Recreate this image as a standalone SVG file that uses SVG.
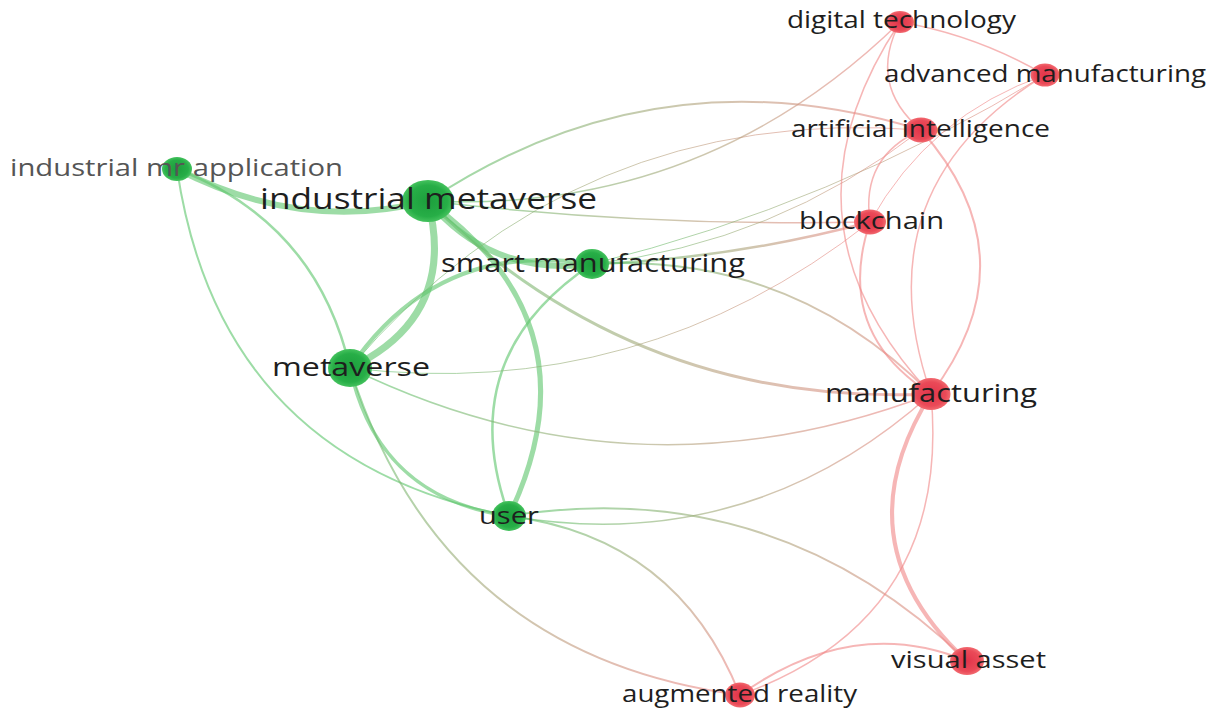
<svg xmlns="http://www.w3.org/2000/svg" width="1216" height="711" viewBox="0 0 1216 711">
<style>
.e{fill:none;stroke-linecap:round;stroke-opacity:0.6}
.g{stroke:#5cc46a}
.r{stroke:#f08585}
.lbl{font-family:"Open Sans","Noto Sans","DejaVu Sans",sans-serif;fill:#1e1e1e;text-anchor:middle}
.gn{fill:url(#gN)}
.rn{fill:url(#rN)}
</style>
<defs>
<radialGradient id="gN" cx="50%" cy="50%" r="50%">
<stop offset="0" stop-color="#1c9e3c"/><stop offset="0.75" stop-color="#27ae47"/><stop offset="1" stop-color="#45c25e"/>
</radialGradient>
<radialGradient id="rN" cx="50%" cy="50%" r="50%">
<stop offset="0" stop-color="#e2344a"/><stop offset="0.75" stop-color="#ea4a58"/><stop offset="1" stop-color="#f26a70"/>
</radialGradient>
<linearGradient id="m10" gradientUnits="userSpaceOnUse" x1="350" y1="368" x2="740" y2="695"><stop offset="0" stop-color="#5cc46a"/><stop offset="1" stop-color="#f08585"/></linearGradient>
<linearGradient id="m11" gradientUnits="userSpaceOnUse" x1="509" y1="516" x2="740" y2="695"><stop offset="0" stop-color="#5cc46a"/><stop offset="1" stop-color="#f08585"/></linearGradient>
<linearGradient id="m12" gradientUnits="userSpaceOnUse" x1="509" y1="516" x2="967" y2="661"><stop offset="0" stop-color="#5cc46a"/><stop offset="1" stop-color="#f08585"/></linearGradient>
<linearGradient id="m13" gradientUnits="userSpaceOnUse" x1="509" y1="516" x2="931" y2="394"><stop offset="0" stop-color="#5cc46a"/><stop offset="1" stop-color="#f08585"/></linearGradient>
<linearGradient id="m14" gradientUnits="userSpaceOnUse" x1="350" y1="368" x2="931" y2="394"><stop offset="0" stop-color="#5cc46a"/><stop offset="1" stop-color="#f08585"/></linearGradient>
<linearGradient id="m15" gradientUnits="userSpaceOnUse" x1="428" y1="201" x2="931" y2="394"><stop offset="0" stop-color="#5cc46a"/><stop offset="1" stop-color="#f08585"/></linearGradient>
<linearGradient id="m16" gradientUnits="userSpaceOnUse" x1="592" y1="264" x2="931" y2="394"><stop offset="0" stop-color="#5cc46a"/><stop offset="1" stop-color="#f08585"/></linearGradient>
<linearGradient id="m17" gradientUnits="userSpaceOnUse" x1="428" y1="201" x2="921" y2="130"><stop offset="0" stop-color="#5cc46a"/><stop offset="1" stop-color="#f08585"/></linearGradient>
<linearGradient id="m18" gradientUnits="userSpaceOnUse" x1="350" y1="368" x2="921" y2="130"><stop offset="0" stop-color="#5cc46a"/><stop offset="1" stop-color="#f08585"/></linearGradient>
<linearGradient id="m19" gradientUnits="userSpaceOnUse" x1="428" y1="201" x2="900" y2="22"><stop offset="0" stop-color="#5cc46a"/><stop offset="1" stop-color="#f08585"/></linearGradient>
<linearGradient id="m20" gradientUnits="userSpaceOnUse" x1="428" y1="201" x2="870" y2="222"><stop offset="0" stop-color="#5cc46a"/><stop offset="1" stop-color="#f08585"/></linearGradient>
<linearGradient id="m21" gradientUnits="userSpaceOnUse" x1="592" y1="264" x2="870" y2="222"><stop offset="0" stop-color="#5cc46a"/><stop offset="1" stop-color="#f08585"/></linearGradient>
<linearGradient id="m22" gradientUnits="userSpaceOnUse" x1="592" y1="264" x2="1045" y2="75"><stop offset="0" stop-color="#5cc46a"/><stop offset="1" stop-color="#f08585"/></linearGradient>
<linearGradient id="m23" gradientUnits="userSpaceOnUse" x1="592" y1="264" x2="921" y2="130"><stop offset="0" stop-color="#5cc46a"/><stop offset="1" stop-color="#f08585"/></linearGradient>
<linearGradient id="m24" gradientUnits="userSpaceOnUse" x1="350" y1="368" x2="870" y2="222"><stop offset="0" stop-color="#5cc46a"/><stop offset="1" stop-color="#f08585"/></linearGradient>
</defs>
<rect width="1216" height="711" fill="#ffffff"/>
<g id="connectors">
<path class="e g" stroke-width="6" d="M177,169 Q301.5,233 428,201"/>
<path class="e g" stroke-width="2.5" d="M177,169 Q316.5,222.5 350,368"/>
<path class="e g" stroke-width="2" d="M177,169 Q220,459.5 509,516"/>
<path class="e g" stroke-width="7" d="M428,201 Q457.8,316.7 350,368"/>
<path class="e g" stroke-width="4" d="M592,264 Q437.8,238.8 350,368"/>
<path class="e g" stroke-width="6" d="M428,201 Q492.8,277.3 592,264"/>
<path class="e g" stroke-width="5" d="M428,201 Q600.3,324.7 509,516"/>
<path class="e g" stroke-width="2.5" d="M592,264 Q451.7,357.4 509,516"/>
<path class="e g" stroke-width="3.5" d="M350,368 Q377.7,497.6 509,516"/>
<path class="e" stroke="url(#m10)" stroke-width="2" d="M350,368 Q440.8,655.5 740,695"/>
<path class="e" stroke="url(#m11)" stroke-width="2" d="M509,516 Q677.1,537.5 740,695"/>
<path class="e" stroke="url(#m12)" stroke-width="2" d="M509,516 Q774.2,474.1 967,661"/>
<path class="e" stroke="url(#m13)" stroke-width="1.5" d="M509,516 Q749.4,556.8 931,394"/>
<path class="e" stroke="url(#m14)" stroke-width="1.5" d="M350,368 Q634.9,507 931,394"/>
<path class="e" stroke="url(#m15)" stroke-width="3" d="M428,201 Q637.3,407.7 931,394"/>
<path class="e" stroke="url(#m16)" stroke-width="2" d="M592,264 Q790.9,252.4 931,394"/>
<path class="e" stroke="url(#m17)" stroke-width="2" d="M428,201 Q657.7,48.7 921,130"/>
<path class="e" stroke="url(#m18)" stroke-width="1" d="M350,368 Q574.7,103.2 921,130"/>
<path class="e" stroke="url(#m19)" stroke-width="1.5" d="M428,201 Q703,214.3 900,22"/>
<path class="e" stroke="url(#m20)" stroke-width="1.5" d="M428,201 Q649,227 870,222"/>
<path class="e" stroke="url(#m21)" stroke-width="2.5" d="M592,264 Q731,259 870,222"/>
<path class="e" stroke="url(#m22)" stroke-width="1" d="M592,264 Q833.1,204.5 1045,75"/>
<path class="e" stroke="url(#m23)" stroke-width="1" d="M592,264 Q775.3,243.4 921,130"/>
<path class="e" stroke="url(#m24)" stroke-width="1" d="M350,368 Q640.2,402.8 870,222"/>
<path class="e r" stroke-width="1.5" d="M900,22 Q977.3,35.3 1045,75"/>
<path class="e r" stroke-width="1.5" d="M900,22 Q867.3,84.4 921,130"/>
<path class="e r" stroke-width="1.5" d="M900,22 Q768.1,220.2 931,394"/>
<path class="e r" stroke-width="1.5" d="M1045,75 Q860,188.7 931,394"/>
<path class="e r" stroke-width="2" d="M921,130 Q1034,258 931,394"/>
<path class="e r" stroke-width="2" d="M870,222 Q833.5,331.8 931,394"/>
<path class="e r" stroke-width="1.5" d="M921,130 Q860.5,156.6 870,222"/>
<path class="e r" stroke-width="1" d="M1045,75 Q929.5,114.9 870,222"/>
<path class="e r" stroke-width="4" d="M931,394 Q838,542.5 967,661"/>
<path class="e r" stroke-width="1.5" d="M931,394 Q951.9,618.5 740,695"/>
<path class="e r" stroke-width="2" d="M740,695 Q853.5,614 967,661"/>
</g>
<g id="node-industrial-mr-application"><ellipse class="gn" cx="177" cy="169" rx="15" ry="12"/><text class="lbl" x="176.5" y="176" font-size="24" textLength="333" lengthAdjust="spacingAndGlyphs" style="fill:#555555">industrial mr application</text></g>
<g id="node-industrial-metaverse"><ellipse class="gn" cx="428" cy="201" rx="26" ry="21"/><text class="lbl" x="428.5" y="209" font-size="29" textLength="337" lengthAdjust="spacingAndGlyphs">industrial metaverse</text></g>
<g id="node-smart-manufacturing"><ellipse class="gn" cx="592" cy="264" rx="17" ry="15"/><text class="lbl" x="593" y="272" font-size="25" textLength="304" lengthAdjust="spacingAndGlyphs">smart manufacturing</text></g>
<g id="node-metaverse"><ellipse class="gn" cx="350" cy="368" rx="22" ry="19"/><text class="lbl" x="351" y="376" font-size="26" textLength="158" lengthAdjust="spacingAndGlyphs">metaverse</text></g>
<g id="node-user"><ellipse class="gn" cx="509" cy="516" rx="17" ry="15"/><text class="lbl" x="509" y="524" font-size="24" textLength="60" lengthAdjust="spacingAndGlyphs">user</text></g>
<g id="node-digital-technology"><ellipse class="rn" cx="900" cy="22" rx="14" ry="11"/><text class="lbl" x="901.5" y="28" font-size="24" textLength="229" lengthAdjust="spacingAndGlyphs">digital technology</text></g>
<g id="node-advanced-manufacturing"><ellipse class="rn" cx="1045" cy="75" rx="14.5" ry="11.5"/><text class="lbl" x="1045" y="82" font-size="24" textLength="322" lengthAdjust="spacingAndGlyphs">advanced manufacturing</text></g>
<g id="node-artificial-intelligence"><ellipse class="rn" cx="921" cy="130" rx="16.5" ry="12.5"/><text class="lbl" x="920.5" y="137" font-size="24" textLength="259" lengthAdjust="spacingAndGlyphs">artificial intelligence</text></g>
<g id="node-blockchain"><ellipse class="rn" cx="870" cy="222" rx="16" ry="12.5"/><text class="lbl" x="871.5" y="229" font-size="24" textLength="145" lengthAdjust="spacingAndGlyphs">blockchain</text></g>
<g id="node-manufacturing"><ellipse class="rn" cx="931" cy="394" rx="19.5" ry="16"/><text class="lbl" x="931" y="402" font-size="26" textLength="212" lengthAdjust="spacingAndGlyphs">manufacturing</text></g>
<g id="node-visual-asset"><ellipse class="rn" cx="967" cy="661" rx="17" ry="14"/><text class="lbl" x="968.5" y="668" font-size="24" textLength="155" lengthAdjust="spacingAndGlyphs">visual asset</text></g>
<g id="node-augmented-reality"><ellipse class="rn" cx="740" cy="695" rx="15" ry="12.5"/><text class="lbl" x="739.5" y="702" font-size="24" textLength="235" lengthAdjust="spacingAndGlyphs">augmented reality</text></g>
</svg>
